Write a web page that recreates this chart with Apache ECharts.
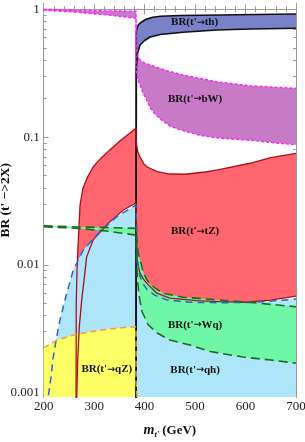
<!DOCTYPE html>
<html><head><meta charset="utf-8">
<script src="https://cdn.jsdelivr.net/npm/echarts@6/dist/echarts.min.js"></script>
<style>html,body{margin:0;padding:0;background:#fff;}#c{width:305px;height:442px;}</style>
</head><body><div id="c"></div>
<script>
// ---------- axis ticks ----------
const xRange = [200, 700];
const yRangeBR = [0.00092, 1.114];
const yTickValues = [0.001, 0.01, 0.1, 1];
const yTickLabels = ['0.001', '0.01', '0.1', '1'];
const yMinorValues = [];
[0.001, 0.01, 0.1].forEach(d => { for (let k = 2; k <= 9; k++) yMinorValues.push(k * d); });

// ---------- BR(t'->bW) band ----------
const bW_upper_left = [[200,1.0],[240,0.99],[300,0.975],[383,0.965]];
const bW_lower_left = [[200,0.985],[265,0.95],[330,0.90],[383,0.85]];
const bW_upper_right = [[383,0.50],[387,0.43],[391,0.40],[400,0.38],[411,0.367],[430,0.345],[444,0.331],[476,0.306],[543,0.271],[609,0.252],[660,0.245],[700,0.241]];
const bW_lower_right = [[383,0.335],[386,0.29],[390,0.26],[397,0.22],[404,0.195],[411,0.17],[420,0.152],[430,0.14],[450,0.122],[470,0.114],[510,0.103],[549,0.098],[615,0.094],[660,0.09],[700,0.087]];

// ---------- BR(t'->th) band ----------
const th_upper = [[383,0.0005],[383.5,0.66],[385,0.71],[387,0.75],[391,0.78],[397,0.81],[403,0.835],[416,0.866],[431,0.882],[470,0.894],[550,0.903],[620,0.911],[700,0.919]];
const th_lower = [[383,0.0005],[383.5,0.35],[386,0.455],[391,0.526],[400,0.570],[411,0.607],[431,0.635],[476,0.661],[543,0.689],[609,0.701],[700,0.710]];

// ---------- BR(t'->tZ) band ----------
const tZ_upper_left = [[264,0.0005],[264.5,0.005],[266,0.009],[268,0.014],[270,0.02],[272,0.0294],[278,0.040],[286,0.0479],[298,0.0583],[312,0.0675],[331,0.0792],[351,0.0931],[371,0.1077],[383,0.118]];
const tZ_lower_left = [[264.5,0.0005],[265.5,0.00093],[267.4,0.0018],[270.6,0.0033],[275.3,0.0053],[280,0.0076],[285,0.0115],[298,0.0157],[312,0.0181],[331,0.0217],[358,0.0269],[383,0.0305]];
const tZ_upper_right = [[383,0.098],[384.5,0.085],[386,0.078],[391,0.0698],[398,0.062],[405,0.0583],[425,0.0536],[450,0.0514],[480,0.0512],[520,0.0533],[545,0.0553],[609,0.0624],[650,0.069],[700,0.0747]];
const tZ_lower_right = [[383,0.0305],[384,0.02],[385,0.011],[390,0.0088],[397,0.0078],[404,0.0072],[424,0.006],[450,0.0055],[503,0.00525],[549,0.00515],[600,0.0051],[650,0.0053],[700,0.0057]];

// ---------- BR(t'->qh) band (lower edge below the chart) ----------
const qh_upper = [[207,0.0005],[209,0.00093],[214.5,0.00133],[219,0.00191],[225.8,0.00274],[232.3,0.00371],[245.6,0.0060],[258.7,0.0091],[278.5,0.0131],[311.6,0.0182],[344.7,0.0238],[383,0.0294],[384,0.02],[385,0.0135],[386.5,0.0102],[390,0.0084],[395,0.0073],[405,0.0064],[420,0.0058],[445,0.0053],[490,0.0051],[550,0.00505],[620,0.0051],[700,0.0054]];

// ---------- BR(t'->Wq) band ----------
const Wq_upper_left = [[200,0.0202],[268,0.0198],[325,0.0196],[383,0.0193]];
const Wq_lower_left = [[200,0.0199],[268,0.0193],[325,0.0184],[383,0.0171]];
const Wq_upper_right = [[383,0.0185],[385,0.015],[387,0.0125],[391,0.011],[397,0.0088],[404,0.0077],[411,0.0070],[436,0.0060],[476,0.00558],[549,0.00531],[629,0.0050],[700,0.0047]];
const Wq_lower_right = [[383,0.0165],[384,0.011],[386,0.0075],[389,0.0058],[391,0.0052],[395,0.0043],[407,0.0034],[425,0.00293],[450,0.00258],[490,0.00236],[530,0.0021],[595,0.0019],[650,0.0018],[700,0.0017]];

// ---------- BR(t'->qZ) band (lower edge below the chart) ----------
const qZ_upper = [[200,0.00224],[226,0.00258],[259,0.00283],[292,0.0030],[325,0.00313],[358,0.00323],[383,0.00328],[383,0.0012],[384.5,0.001],[386,0.0008]];

// ---------- band labels: [before arrow, after arrow, m, BR] ----------
const bandLabels = [
  ["BR(t'", "th)", 499, 0.788],
  ["BR(t'", "bW)", 500, 0.199],
  ["BR(t'", "tZ)", 500, 0.0184],
  ["BR(t'", "Wq)", 500, 0.00339],
  ["BR(t'", "qh)", 500, 0.00151],
  ["BR(t'", "qZ)", 325, 0.00153]
];

// ================= build =================
const L = v => Math.log10(v);
const yMinL = L(yRangeBR[0]), yMaxL = L(yRangeBR[1]);
const clampPt = p => [p[0], Math.max(L(p[1]), yMinL)];
const toBottom = arr => [[arr[arr.length-1][0], yRangeBR[0]], [arr[0][0], yRangeBR[0]]];

const bands = [
  {fill:'#c77bc6', up:bW_upper_left, lo:bW_lower_left},
  {fill:'#c77bc6', up:bW_upper_right, lo:bW_lower_right},
  {fill:'#7782c9', up:th_upper, lo:th_lower},
  {fill:'#ff6670', up:tZ_upper_left, lo:tZ_lower_left},
  {fill:'#ff6670', up:tZ_upper_right, lo:tZ_lower_right},
  {fill:'#aee6f9', up:qh_upper, lo:null},
  {fill:'#6ff6a6', up:Wq_upper_left, lo:Wq_lower_left},
  {fill:'#6ff6a6', up:Wq_upper_right, lo:Wq_lower_right},
  {fill:'#ffff66', up:qZ_upper, lo:null}
];

function polyPoints(b) {
  const up = b.up.map(clampPt);
  const lo = b.lo ? b.lo.slice().reverse().map(clampPt) : toBottom(b.up).map(clampPt);
  return up.concat(lo);
}

const serifFont = '"Liberation Serif", "Times New Roman", "DejaVu Serif", serif';

const edgeLines = [
  {data: th_upper, color:'#111', width:1.6, type:'solid'},
  {data: th_lower, color:'#111', width:1.6, type:'solid'},
  {data: tZ_upper_left, color:'#a8101a', width:1.3, type:'solid'},
  {data: tZ_lower_left, color:'#a8101a', width:1.3, type:'solid'},
  {data: [tZ_upper_left[tZ_upper_left.length-1]].concat(tZ_upper_right), color:'#a8101a', width:1.3, type:'solid'},
  {data: tZ_lower_right, color:'#a8101a', width:1.3, type:'solid'},
  {data: qh_upper, color:'#2a64c4', width:1.5, type:[7,5]},
  {data: Wq_upper_left.concat(Wq_upper_right), color:'#1c6b1c', width:1.6, type:[9,5]},
  {data: Wq_lower_left.concat(Wq_lower_right), color:'#1c6b1c', width:1.6, type:[9,5]},
  {data: qZ_upper, color:'#f59a3a', width:1.5, type:[6,4]},
  {data: bW_upper_left.concat(bW_upper_right), color:'#ff22ff', width:1.4, type:[3,2]},
  {data: bW_lower_left.concat(bW_lower_right), color:'#ff22ff', width:1.4, type:[3,2]}
];

const series = [];
series.push({
  type:'custom', coordinateSystem:'cartesian2d', xAxisIndex:0, yAxisIndex:0,
  silent:true, clip:true, z:1, data:[[450,-1]],
  renderItem: (params, api) => ({
    type:'group',
    children: bands.map(b => ({
      type:'polygon',
      shape:{points: polyPoints(b).map(p => api.coord(p))},
      style:{fill:b.fill, stroke:null}
    }))
  })
});
edgeLines.forEach(e => series.push({
  type:'line', xAxisIndex:0, yAxisIndex:0, z:2, silent:true, clip:true,
  symbol:'none', showSymbol:false, animation:false,
  data: e.data.map(p => [p[0], L(p[1])]),
  lineStyle:{color:e.color, width:e.width, type:e.type}
}));
series.push({
  type:'custom', coordinateSystem:'cartesian2d', xAxisIndex:0, yAxisIndex:0,
  silent:true, z:3, data: bandLabels.map(l => [l[2], L(l[3])]),
  renderItem: (params, api) => {
    const p = api.coord([api.value(0), api.value(1)]);
    const l = bandLabels[params.dataIndex];
    return {type:'text', x:p[0], y:p[1], style:{
      text: l[0] + '{a|→}' + l[1], fill:'#111',
      font:'bold 11px ' + serifFont, align:'center', verticalAlign:'middle',
      rich:{a:{fontSize:9.5, fontWeight:'bold', fontFamily:'"DejaVu Sans"', fill:'#111'}}}};
  }
});

const axisGray = '#9a9a9a';
const xAxisCommon = {
  type:'value', min:xRange[0], max:xRange[1], interval:100,
  axisLine:{show:true, lineStyle:{color:axisGray, width:1}},
  axisTick:{show:true, inside:true, length:5, lineStyle:{color:axisGray}},
  minorTick:{show:true, splitNumber:5, length:3, lineStyle:{color:axisGray}},
  splitLine:{show:false}
};
const majorY = yTickValues.map(L);
const minorY = yMinorValues.map(L);
function yAx(pos, vals, len, labels) {
  return {
    type:'value', position:pos, min:yMinL, max:yMaxL,
    axisLine:{show:true, lineStyle:{color:axisGray, width:1}},
    axisTick:{show:true, inside:true, length:len, customValues:vals, lineStyle:{color:axisGray}},
    axisLabel:labels ? {show:true, customValues:vals, margin:4, color:'#222', fontFamily:serifFont, fontSize:13,
      formatter: v => yTickLabels[Math.round(v) + 3]} : {show:false},
    splitLine:{show:false}
  };
}

const option = {
  animation:false,
  grid:{left:43.7, right:9, top:3.3, bottom:44.7, containLabel:false, outerBoundsMode:'none'},
  xAxis:[
    Object.assign({}, xAxisCommon, {position:'bottom',
      axisLabel:{margin:3, color:'#222', fontFamily:serifFont, fontSize:13},
      name:"{m|m}{s|t'}{g|(GeV)}", nameLocation:'middle', nameGap:25,
      nameTextStyle:{rich:{
        m:{fontFamily:serifFont, fontSize:14, fontWeight:'bold', fontStyle:'italic', color:'#111'},
        s:{fontFamily:serifFont, fontSize:8.5, fontWeight:'bold', fontStyle:'italic', color:'#111', padding:[8,0,0,0]},
        g:{fontFamily:serifFont, fontSize:13, fontWeight:'bold', color:'#111', padding:[0,0,0,3]}
      }}}),
    Object.assign({}, xAxisCommon, {position:'top', axisLabel:{show:false}})
  ],
  yAxis:[
    Object.assign(yAx('left', majorY, 5, true), {
      name:"BR (t' −>2X)", nameLocation:'middle', nameGap:31, nameRotate:90, nameMoveOverlap:false,
      nameTextStyle:{fontFamily:serifFont, fontSize:13.5, fontWeight:'bold', color:'#111'}}),
    yAx('left', minorY, 3, false),
    yAx('right', majorY, 5, false),
    yAx('right', minorY, 3, false)
  ],
  series
};
const chart = echarts.init(document.getElementById('c'), null, {renderer:'canvas'});
chart.setOption(option);
</script>
</body></html>
